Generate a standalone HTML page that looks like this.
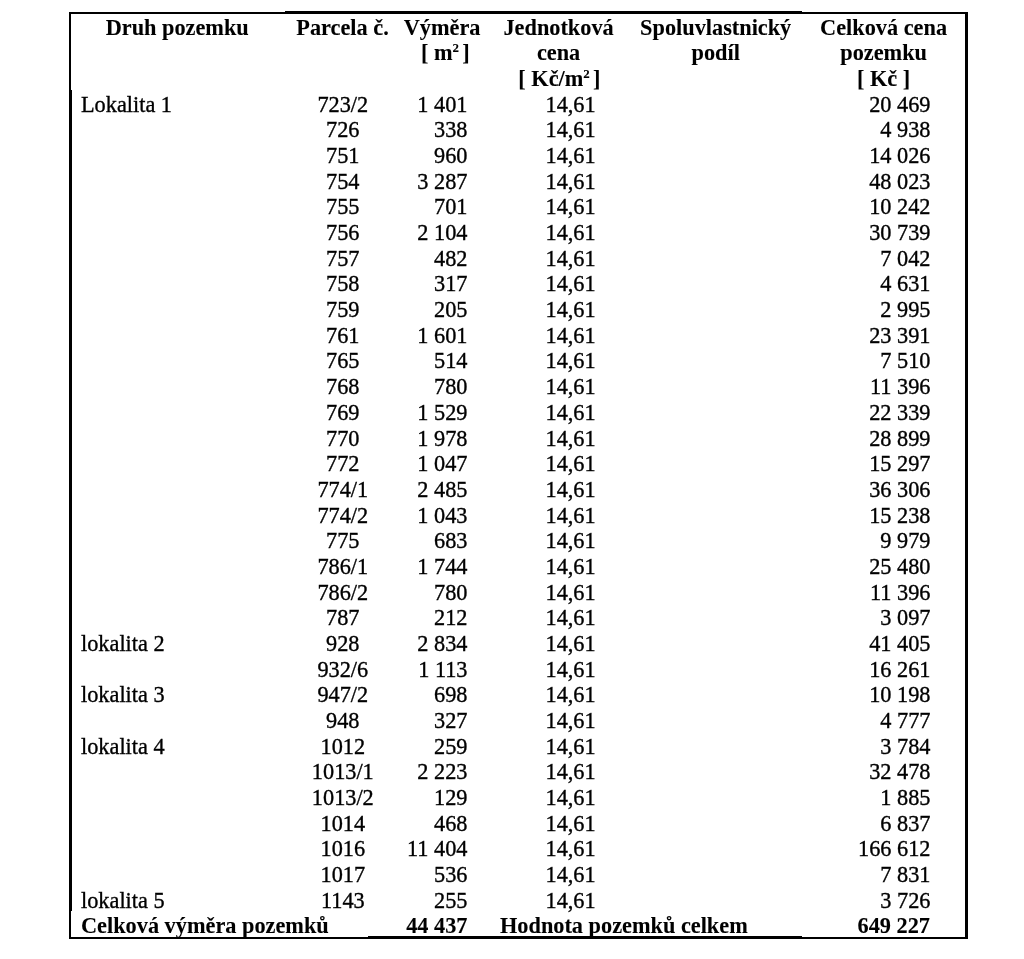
<!DOCTYPE html>
<html><head><meta charset="utf-8"><style>
html,body{margin:0;padding:0;background:#fff;width:1024px;height:959px;overflow:hidden}
.t{position:absolute;transform:scaleY(1.04);transform-origin:0 20.37px;-webkit-text-stroke:0.35px #000;font-family:"Liberation Serif",serif;font-size:22.3px;line-height:25.68px;color:#000;white-space:nowrap}
.b{font-weight:bold;-webkit-text-stroke:0.1px #000}
.l{position:absolute;background:#000}
body{filter:blur(0.4px)}
sup{font-size:0.58em;line-height:0;vertical-align:0.62em}
</style></head><body>
<div class="l" style="left:69.0px;top:11.9px;width:216.5px;height:1.9px"></div>
<div class="l" style="left:285px;top:11.0px;width:517px;height:2.8px"></div>
<div class="l" style="left:802px;top:11.9px;width:166px;height:1.9px"></div>
<div class="l" style="left:69.0px;top:11.9px;width:2.4px;height:78.1px"></div>
<div class="l" style="left:68.8px;top:90px;width:2.9px;height:821px"></div>
<div class="l" style="left:69.0px;top:911px;width:2.3px;height:27.9px"></div>
<div class="l" style="left:965.4px;top:11.9px;width:2.3px;height:78.1px"></div>
<div class="l" style="left:965.3px;top:90px;width:2.7px;height:821px"></div>
<div class="l" style="left:965.4px;top:911px;width:2.3px;height:27.9px"></div>
<div class="l" style="left:69.0px;top:937.1px;width:299.2px;height:1.8px"></div>
<div class="l" style="left:368px;top:936.4px;width:434px;height:2.8px"></div>
<div class="l" style="left:802px;top:937.1px;width:165.7px;height:1.8px"></div>
<div class="t b" style="left:27.20px;width:300px;text-align:center;top:14.63px">Druh pozemku</div>
<div class="t b" style="left:272.50px;width:140px;text-align:center;top:14.63px">Parcela č.</div>
<div class="t b" style="left:382.10px;width:120px;text-align:center;top:14.63px">Výměra</div>
<div class="t b" style="left:385.40px;width:120px;text-align:center;top:40.31px">[ m<sup>2 </sup>]</div>
<div class="t b" style="left:478.60px;width:160px;text-align:center;top:14.63px">Jednotková</div>
<div class="t b" style="left:478.60px;width:160px;text-align:center;top:40.31px">cena</div>
<div class="t b" style="left:479.40px;width:160px;text-align:center;top:65.99px">[ Kč/m<sup>2 </sup>]</div>
<div class="t b" style="left:615.70px;width:200px;text-align:center;top:14.63px">Spoluvlastnický</div>
<div class="t b" style="left:615.70px;width:200px;text-align:center;top:40.31px">podíl</div>
<div class="t b" style="left:783.60px;width:200px;text-align:center;top:14.63px">Celková cena</div>
<div class="t b" style="left:783.60px;width:200px;text-align:center;top:40.31px">pozemku</div>
<div class="t b" style="left:783.60px;width:200px;text-align:center;top:65.99px">[ Kč ]</div>
<div class="t " style="left:81.00px;top:91.67px">Lokalita 1</div>
<div class="t " style="left:282.80px;width:120px;text-align:center;top:91.67px">723/2</div>
<div class="t " style="left:347.50px;width:120px;text-align:right;top:91.67px">1 401</div>
<div class="t " style="left:545.50px;top:91.67px">14,61</div>
<div class="t " style="left:780.50px;width:150px;text-align:right;top:91.67px">20 469</div>
<div class="t " style="left:282.80px;width:120px;text-align:center;top:117.35px">726</div>
<div class="t " style="left:347.50px;width:120px;text-align:right;top:117.35px">338</div>
<div class="t " style="left:545.50px;top:117.35px">14,61</div>
<div class="t " style="left:780.50px;width:150px;text-align:right;top:117.35px">4 938</div>
<div class="t " style="left:282.80px;width:120px;text-align:center;top:143.03px">751</div>
<div class="t " style="left:347.50px;width:120px;text-align:right;top:143.03px">960</div>
<div class="t " style="left:545.50px;top:143.03px">14,61</div>
<div class="t " style="left:780.50px;width:150px;text-align:right;top:143.03px">14 026</div>
<div class="t " style="left:282.80px;width:120px;text-align:center;top:168.71px">754</div>
<div class="t " style="left:347.50px;width:120px;text-align:right;top:168.71px">3 287</div>
<div class="t " style="left:545.50px;top:168.71px">14,61</div>
<div class="t " style="left:780.50px;width:150px;text-align:right;top:168.71px">48 023</div>
<div class="t " style="left:282.80px;width:120px;text-align:center;top:194.39px">755</div>
<div class="t " style="left:347.50px;width:120px;text-align:right;top:194.39px">701</div>
<div class="t " style="left:545.50px;top:194.39px">14,61</div>
<div class="t " style="left:780.50px;width:150px;text-align:right;top:194.39px">10 242</div>
<div class="t " style="left:282.80px;width:120px;text-align:center;top:220.07px">756</div>
<div class="t " style="left:347.50px;width:120px;text-align:right;top:220.07px">2 104</div>
<div class="t " style="left:545.50px;top:220.07px">14,61</div>
<div class="t " style="left:780.50px;width:150px;text-align:right;top:220.07px">30 739</div>
<div class="t " style="left:282.80px;width:120px;text-align:center;top:245.75px">757</div>
<div class="t " style="left:347.50px;width:120px;text-align:right;top:245.75px">482</div>
<div class="t " style="left:545.50px;top:245.75px">14,61</div>
<div class="t " style="left:780.50px;width:150px;text-align:right;top:245.75px">7 042</div>
<div class="t " style="left:282.80px;width:120px;text-align:center;top:271.43px">758</div>
<div class="t " style="left:347.50px;width:120px;text-align:right;top:271.43px">317</div>
<div class="t " style="left:545.50px;top:271.43px">14,61</div>
<div class="t " style="left:780.50px;width:150px;text-align:right;top:271.43px">4 631</div>
<div class="t " style="left:282.80px;width:120px;text-align:center;top:297.11px">759</div>
<div class="t " style="left:347.50px;width:120px;text-align:right;top:297.11px">205</div>
<div class="t " style="left:545.50px;top:297.11px">14,61</div>
<div class="t " style="left:780.50px;width:150px;text-align:right;top:297.11px">2 995</div>
<div class="t " style="left:282.80px;width:120px;text-align:center;top:322.79px">761</div>
<div class="t " style="left:347.50px;width:120px;text-align:right;top:322.79px">1 601</div>
<div class="t " style="left:545.50px;top:322.79px">14,61</div>
<div class="t " style="left:780.50px;width:150px;text-align:right;top:322.79px">23 391</div>
<div class="t " style="left:282.80px;width:120px;text-align:center;top:348.47px">765</div>
<div class="t " style="left:347.50px;width:120px;text-align:right;top:348.47px">514</div>
<div class="t " style="left:545.50px;top:348.47px">14,61</div>
<div class="t " style="left:780.50px;width:150px;text-align:right;top:348.47px">7 510</div>
<div class="t " style="left:282.80px;width:120px;text-align:center;top:374.15px">768</div>
<div class="t " style="left:347.50px;width:120px;text-align:right;top:374.15px">780</div>
<div class="t " style="left:545.50px;top:374.15px">14,61</div>
<div class="t " style="left:780.50px;width:150px;text-align:right;top:374.15px">11 396</div>
<div class="t " style="left:282.80px;width:120px;text-align:center;top:399.83px">769</div>
<div class="t " style="left:347.50px;width:120px;text-align:right;top:399.83px">1 529</div>
<div class="t " style="left:545.50px;top:399.83px">14,61</div>
<div class="t " style="left:780.50px;width:150px;text-align:right;top:399.83px">22 339</div>
<div class="t " style="left:282.80px;width:120px;text-align:center;top:425.51px">770</div>
<div class="t " style="left:347.50px;width:120px;text-align:right;top:425.51px">1 978</div>
<div class="t " style="left:545.50px;top:425.51px">14,61</div>
<div class="t " style="left:780.50px;width:150px;text-align:right;top:425.51px">28 899</div>
<div class="t " style="left:282.80px;width:120px;text-align:center;top:451.19px">772</div>
<div class="t " style="left:347.50px;width:120px;text-align:right;top:451.19px">1 047</div>
<div class="t " style="left:545.50px;top:451.19px">14,61</div>
<div class="t " style="left:780.50px;width:150px;text-align:right;top:451.19px">15 297</div>
<div class="t " style="left:282.80px;width:120px;text-align:center;top:476.87px">774/1</div>
<div class="t " style="left:347.50px;width:120px;text-align:right;top:476.87px">2 485</div>
<div class="t " style="left:545.50px;top:476.87px">14,61</div>
<div class="t " style="left:780.50px;width:150px;text-align:right;top:476.87px">36 306</div>
<div class="t " style="left:282.80px;width:120px;text-align:center;top:502.55px">774/2</div>
<div class="t " style="left:347.50px;width:120px;text-align:right;top:502.55px">1 043</div>
<div class="t " style="left:545.50px;top:502.55px">14,61</div>
<div class="t " style="left:780.50px;width:150px;text-align:right;top:502.55px">15 238</div>
<div class="t " style="left:282.80px;width:120px;text-align:center;top:528.23px">775</div>
<div class="t " style="left:347.50px;width:120px;text-align:right;top:528.23px">683</div>
<div class="t " style="left:545.50px;top:528.23px">14,61</div>
<div class="t " style="left:780.50px;width:150px;text-align:right;top:528.23px">9 979</div>
<div class="t " style="left:282.80px;width:120px;text-align:center;top:553.91px">786/1</div>
<div class="t " style="left:347.50px;width:120px;text-align:right;top:553.91px">1 744</div>
<div class="t " style="left:545.50px;top:553.91px">14,61</div>
<div class="t " style="left:780.50px;width:150px;text-align:right;top:553.91px">25 480</div>
<div class="t " style="left:282.80px;width:120px;text-align:center;top:579.59px">786/2</div>
<div class="t " style="left:347.50px;width:120px;text-align:right;top:579.59px">780</div>
<div class="t " style="left:545.50px;top:579.59px">14,61</div>
<div class="t " style="left:780.50px;width:150px;text-align:right;top:579.59px">11 396</div>
<div class="t " style="left:282.80px;width:120px;text-align:center;top:605.27px">787</div>
<div class="t " style="left:347.50px;width:120px;text-align:right;top:605.27px">212</div>
<div class="t " style="left:545.50px;top:605.27px">14,61</div>
<div class="t " style="left:780.50px;width:150px;text-align:right;top:605.27px">3 097</div>
<div class="t " style="left:81.00px;top:630.95px">lokalita 2</div>
<div class="t " style="left:282.80px;width:120px;text-align:center;top:630.95px">928</div>
<div class="t " style="left:347.50px;width:120px;text-align:right;top:630.95px">2 834</div>
<div class="t " style="left:545.50px;top:630.95px">14,61</div>
<div class="t " style="left:780.50px;width:150px;text-align:right;top:630.95px">41 405</div>
<div class="t " style="left:282.80px;width:120px;text-align:center;top:656.63px">932/6</div>
<div class="t " style="left:347.50px;width:120px;text-align:right;top:656.63px">1 113</div>
<div class="t " style="left:545.50px;top:656.63px">14,61</div>
<div class="t " style="left:780.50px;width:150px;text-align:right;top:656.63px">16 261</div>
<div class="t " style="left:81.00px;top:682.31px">lokalita 3</div>
<div class="t " style="left:282.80px;width:120px;text-align:center;top:682.31px">947/2</div>
<div class="t " style="left:347.50px;width:120px;text-align:right;top:682.31px">698</div>
<div class="t " style="left:545.50px;top:682.31px">14,61</div>
<div class="t " style="left:780.50px;width:150px;text-align:right;top:682.31px">10 198</div>
<div class="t " style="left:282.80px;width:120px;text-align:center;top:707.99px">948</div>
<div class="t " style="left:347.50px;width:120px;text-align:right;top:707.99px">327</div>
<div class="t " style="left:545.50px;top:707.99px">14,61</div>
<div class="t " style="left:780.50px;width:150px;text-align:right;top:707.99px">4 777</div>
<div class="t " style="left:81.00px;top:733.67px">lokalita 4</div>
<div class="t " style="left:282.80px;width:120px;text-align:center;top:733.67px">1012</div>
<div class="t " style="left:347.50px;width:120px;text-align:right;top:733.67px">259</div>
<div class="t " style="left:545.50px;top:733.67px">14,61</div>
<div class="t " style="left:780.50px;width:150px;text-align:right;top:733.67px">3 784</div>
<div class="t " style="left:282.80px;width:120px;text-align:center;top:759.35px">1013/1</div>
<div class="t " style="left:347.50px;width:120px;text-align:right;top:759.35px">2 223</div>
<div class="t " style="left:545.50px;top:759.35px">14,61</div>
<div class="t " style="left:780.50px;width:150px;text-align:right;top:759.35px">32 478</div>
<div class="t " style="left:282.80px;width:120px;text-align:center;top:785.03px">1013/2</div>
<div class="t " style="left:347.50px;width:120px;text-align:right;top:785.03px">129</div>
<div class="t " style="left:545.50px;top:785.03px">14,61</div>
<div class="t " style="left:780.50px;width:150px;text-align:right;top:785.03px">1 885</div>
<div class="t " style="left:282.80px;width:120px;text-align:center;top:810.71px">1014</div>
<div class="t " style="left:347.50px;width:120px;text-align:right;top:810.71px">468</div>
<div class="t " style="left:545.50px;top:810.71px">14,61</div>
<div class="t " style="left:780.50px;width:150px;text-align:right;top:810.71px">6 837</div>
<div class="t " style="left:282.80px;width:120px;text-align:center;top:836.39px">1016</div>
<div class="t " style="left:347.50px;width:120px;text-align:right;top:836.39px">11 404</div>
<div class="t " style="left:545.50px;top:836.39px">14,61</div>
<div class="t " style="left:780.50px;width:150px;text-align:right;top:836.39px">166 612</div>
<div class="t " style="left:282.80px;width:120px;text-align:center;top:862.07px">1017</div>
<div class="t " style="left:347.50px;width:120px;text-align:right;top:862.07px">536</div>
<div class="t " style="left:545.50px;top:862.07px">14,61</div>
<div class="t " style="left:780.50px;width:150px;text-align:right;top:862.07px">7 831</div>
<div class="t " style="left:81.00px;top:887.75px">lokalita 5</div>
<div class="t " style="left:282.80px;width:120px;text-align:center;top:887.75px">1143</div>
<div class="t " style="left:347.50px;width:120px;text-align:right;top:887.75px">255</div>
<div class="t " style="left:545.50px;top:887.75px">14,61</div>
<div class="t " style="left:780.50px;width:150px;text-align:right;top:887.75px">3 726</div>
<div class="t b" style="left:81.00px;top:913.43px">Celková výměra pozemků</div>
<div class="t b" style="left:347.50px;width:120px;text-align:right;top:913.43px">44 437</div>
<div class="t b" style="left:500.00px;top:913.43px">Hodnota pozemků celkem</div>
<div class="t b" style="left:780.00px;width:150px;text-align:right;top:913.43px">649 227</div>
</body></html>
